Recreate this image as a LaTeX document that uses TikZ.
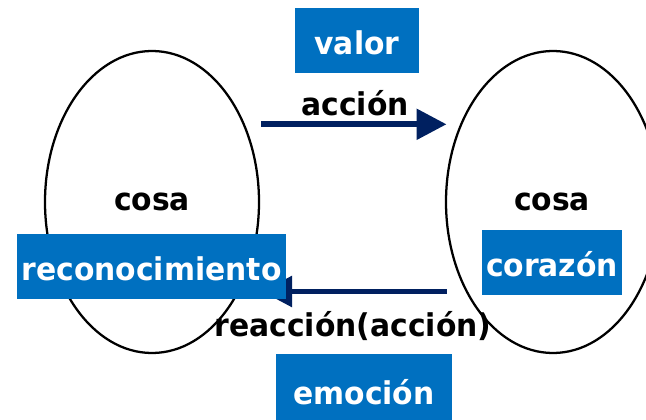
\documentclass[tikz,border=0pt]{standalone}
\usepackage{fontspec}
\setmainfont{DejaVu Sans}[Scale=0.98,FakeStretch=0.95]
\usetikzlibrary{arrows.meta,shapes.geometric}
\definecolor{boxblue}{HTML}{0070C0}
\definecolor{arrownavy}{HTML}{002060}
\tikzset{
  blob/.style={draw=black,line width=1.7pt,fill=white,ellipse,inner sep=0pt,minimum width=160.5pt,minimum height=226.5pt},
  bluebox/.style={fill=boxblue,text=white,inner sep=0pt,font=\bfseries\fontsize{24}{24}\selectfont},
  lbl/.style={text=black,inner sep=0pt,anchor=base,font=\bfseries\fontsize{24}{24}\selectfont},
  conn/.style={draw=arrownavy,line width=4.2pt,-{Triangle[length=22.5pt,width=22.5pt]}}
}
\begin{document}
\begin{tikzpicture}[x=0.75pt,y=-0.75pt]
\useasboundingbox (0,0) rectangle (646,420);
\node[blob] (L) at (152,202) {};
\node[blob] (R) at (553,202) {};
\node[lbl] (c1) at (152,211) {cosa};
\node[lbl] (c2) at (552,211) {cosa};
\coordinate (a1) at (261,124.3);
\coordinate (a2) at (446.5,124.3);
\coordinate (b1) at (446.5,291.5);
\coordinate (b2) at (262,291.5);
\draw[conn] (a1) -- (a2);
\draw[conn] (b1) -- (b2);
\node[lbl] (acc) at (355,116) {acción};
\node[bluebox,minimum width=93pt,text height=35.25pt,text depth=13.5pt] (v) at (357,40.5) {valor};
\node[bluebox,minimum width=202pt,text height=35.25pt,text depth=13.5pt] (r) at (151.5,266.4) {reconocimiento};
\node[bluebox,minimum width=105pt,text height=35pt,text depth=13.7pt] (co) at (552,262.4) {corazón};
\node[lbl] (re) at (353,336.7) {reacción(acción)};
\node[bluebox,minimum width=132pt,text height=37.5pt,text depth=12pt] (e) at (364,387) {emoción};
\end{tikzpicture}
\end{document}
